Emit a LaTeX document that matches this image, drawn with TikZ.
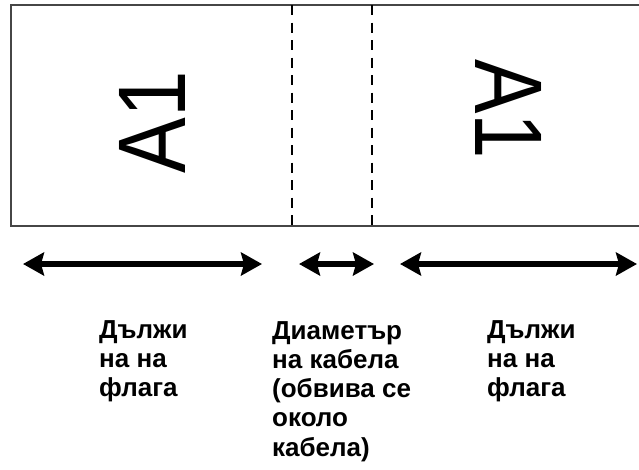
\documentclass[tikz,border=0pt]{standalone}
\usepackage{fontspec}
\setmainfont{Liberation Sans}
\usepackage{tikz}
\usetikzlibrary{arrows.meta, positioning}
\definecolor{edgegray}{RGB}{70, 70, 70}

\begin{document}
\begin{tikzpicture}[x=1pt, y=-1pt,
    tag/.style={font=\fontsize{96}{96}\selectfont, inner sep=0pt},
    caption/.style={font=\bfseries\fontsize{26}{29.3}\selectfont, align=left, anchor=north west, inner sep=0pt},
    span/.style={{Stealth[length=21pt, width=23pt, inset=3pt]}-{Stealth[length=21pt, width=23pt, inset=3pt]}, line width=5.5pt},
    fold/.style={dash pattern=on 10pt off 7.5pt, line width=1.6pt}
]
    \useasboundingbox (0,0) rectangle (639,469);

    % Flag strip (open at the right)
    \draw[edgegray, line width=2pt] (639,5) -- (11,5) -- (11,226) -- (639,226);

    % Fold lines
    \draw[fold] (292,5) -- (292,226);
    \draw[fold] (372,5) -- (372,226);

    % Labels on the flag
    \node[tag, rotate=90, xscale=0.87] (taga) at (152,122) {A1};
    \node[tag, rotate=-90, xscale=0.85] (tagb) at (509,109) {A1};

    % Spans
    \coordinate (flagal) at (23,264);
    \coordinate (flagar) at (262,264);
    \coordinate (cablel) at (299,264);
    \coordinate (cabler) at (374,264);
    \coordinate (flagbl) at (400,264);
    \coordinate (flagbr) at (637,264);
    \draw[span] (flagal) -- (flagar);
    \draw[span] (cablel) -- (cabler);
    \draw[span] (flagbl) -- (flagbr);

    % Captions
    \node[caption] (capa) at (99,320) {Дължи\\на на\\флага};
    \node[caption] (capb) at (272,321) {Диаметър\\на кабела\\(обвива се\\около\\кабела)};
    \node[caption] (capc) at (487,320) {Дължи\\на на\\флага};
\end{tikzpicture}
\end{document}
